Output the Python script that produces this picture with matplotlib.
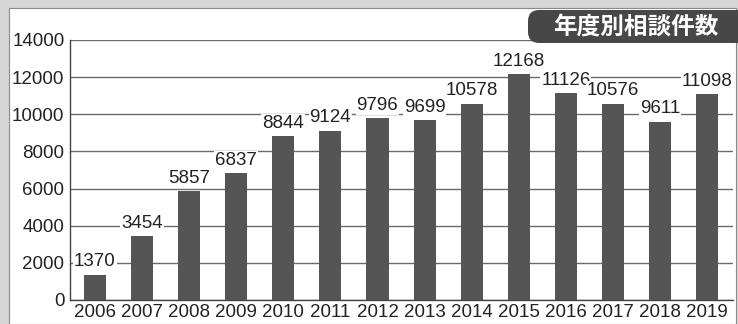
import matplotlib
matplotlib.use("Agg")
import matplotlib.pyplot as plt
from matplotlib.patches import Rectangle, FancyBboxPatch
from matplotlib.transforms import IdentityTransform

years = ["2006", "2007", "2008", "2009", "2010", "2011", "2012",
         "2013", "2014", "2015", "2016", "2017", "2018", "2019"]
counts = [1370, 3454, 5857, 6837, 8844, 9124, 9796,
          9699, 10578, 12168, 11126, 10576, 9611, 11098]
yticks = [0, 2000, 4000, 6000, 8000, 10000, 12000, 14000]
title = "年度別相談件数"

plt.rcParams['font.family'] = ['Liberation Sans', 'DejaVu Sans']

W, H = 738, 324
fig = plt.figure(figsize=(W / 100, H / 100), dpi=100)
fig.patch.set_facecolor("#d6d6d6")
# white panel
fig.add_artist(Rectangle((9 / W, 0), 727 / W, 316 / H, transform=fig.transFigure,
                         facecolor="white", edgecolor="#8a8a8a", lw=0.8, zorder=0))

ax = fig.add_axes([70 / W, 1 - 300 / H, 663 / W, 260 / H])
ax.set_facecolor("white")
x = list(range(len(years)))
ax.bar(x, counts, width=0.47, color="#555555", zorder=3)
ax.set_xlim(-0.53, 13.55)
ax.set_ylim(0, 14000)
ax.set_yticks(yticks)
ax.set_yticklabels([str(v) for v in yticks])
ax.set_xticks(x)
ax.set_xticklabels(years)
ax.yaxis.grid(True, color="#6a6a6a", lw=1.0, zorder=1)
ax.tick_params(axis="both", length=0, labelsize=13.5, colors="#222222")
ax.tick_params(axis="y", pad=4)
ax.tick_params(axis="x", pad=3)
for s in ["top", "right"]:
    ax.spines[s].set_visible(False)
for s in ["left", "bottom"]:
    ax.spines[s].set_color("#444444")
    ax.spines[s].set_linewidth(1.0)

for xi, v in zip(x, counts):
    ax.annotate(str(v), (xi, v), xytext=(0, 3), textcoords="offset points",
                ha="center", va="bottom", fontsize=13.5, color="#222222", zorder=4,
                bbox=dict(boxstyle="square,pad=0.05", facecolor="white", edgecolor="none"))

# title box (display pixel coordinates)
fig.add_artist(FancyBboxPatch((528, H - 43), 240, 33,
                              boxstyle="round,pad=0,rounding_size=11",
                              transform=IdentityTransform(), facecolor="#474747",
                              edgecolor="none", zorder=5))
fig.text(636 / W, 1 - 27 / H, title, ha="center", va="center", color="white",
         fontsize=17, fontweight="bold", family=["Noto Sans CJK JP", "DejaVu Sans"], zorder=6)

fig.savefig("out.png", dpi=100, facecolor=fig.get_facecolor())
